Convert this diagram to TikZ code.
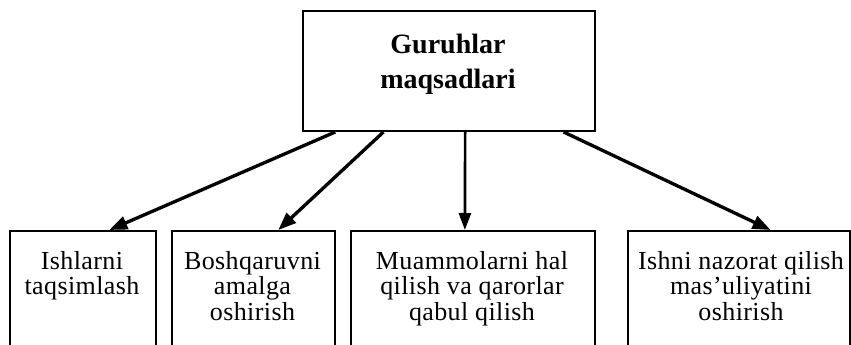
\documentclass[tikz,border=0pt]{standalone}
\usepackage{fontspec}
\setmainfont{Liberation Serif}
\usetikzlibrary{arrows.meta,calc}
\begin{document}
\begin{tikzpicture}[x=0.75pt,y=-0.75pt,
  boxframe/.style={draw,line width=1.5pt,rectangle,inner sep=0pt,anchor=north west},
  lbl/.style={inner sep=0pt,anchor=north,align=center,font=\fontsize{19.5}{19.2}\selectfont\addfontfeature{LetterSpace=1.5}},
  toplbl/.style={inner sep=0pt,anchor=north,align=center,font=\bfseries\fontsize{21}{26.25}\selectfont},
  conn/.style={line width=2.5pt,-{Triangle[length=13.5pt,width=10pt]}},
  connv/.style={line width=2pt,-{Triangle[length=12.75pt,width=9pt]}}]
\useasboundingbox (0,0) rectangle (851,345);
\clip (0,0) rectangle (851,345);
% top box
\node[boxframe,minimum width=219pt,minimum height=90pt] (top) at (302,10) {};
\node[toplbl] (toptxt) at (448,34) {Guruhlar\\maqsadlari};
% bottom boxes (open at the bottom edge)
\node[boxframe,minimum width=109.5pt,minimum height=97.5pt] (b1) at (9,230) {};
\node[boxframe,minimum width=122.25pt,minimum height=97.5pt] (b2) at (171,230) {};
\node[boxframe,minimum width=183pt,minimum height=97.5pt] (b3) at (350,230) {};
\node[boxframe,minimum width=166.5pt,minimum height=97.5pt] (b4) at (627,230) {};
\node[lbl] (t1) at (82,251) {Ishlarni\\taqsimlash};
\node[lbl] (t2) at (252.5,251) {Boshqaruvni\\amalga\\oshirish};
\node[lbl] (t3) at (472,251) {Muammolarni hal\\qilish va qarorlar\\qabul qilish};
\node[lbl] (t4) at (741,251) {Ishni nazorat qilish\\mas'uliyatini\\oshirish};
% connectors
\draw[conn] ($(top.south west)!0.113!(top.south east)$) -- ($(b1.north west)!0.678!(b1.north east)$);
\draw[conn] ($(top.south west)!0.277!(top.south east)$) -- ($(b2.north west)!0.650!(b2.north east)$);
\draw[connv] ($(top.south west)!0.555!(top.south east)$) -- ($(b3.north west)!0.467!(b3.north east)$);
\draw[conn] ($(top.south west)!0.890!(top.south east)$) -- ($(b4.north west)!0.641!(b4.north east)$);
\end{tikzpicture}
\end{document}
